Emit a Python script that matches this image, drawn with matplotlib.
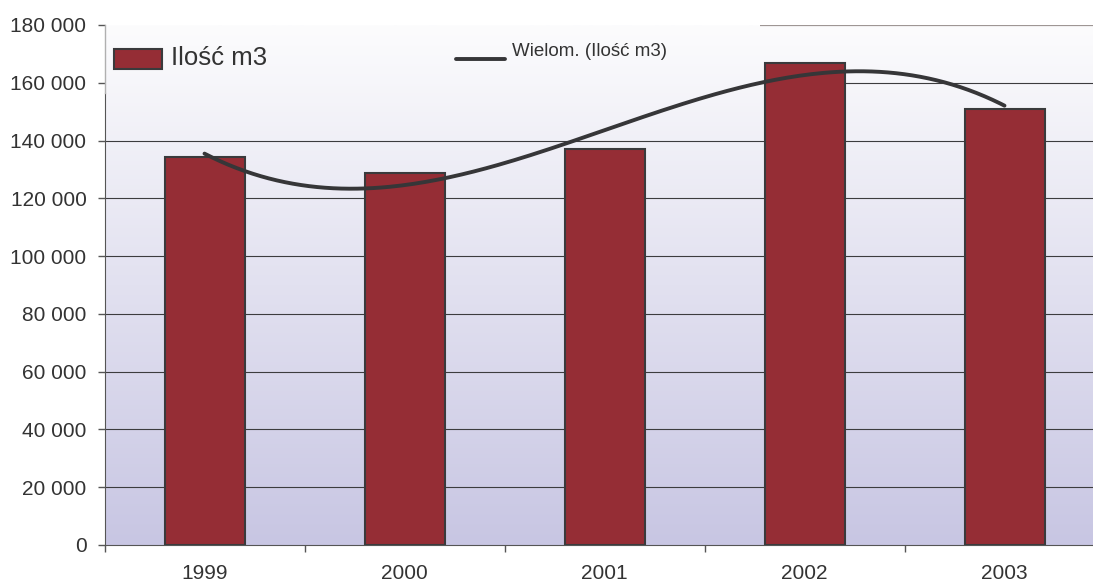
import numpy as np
import matplotlib.pyplot as plt
from matplotlib.colors import LinearSegmentedColormap
from matplotlib.ticker import FuncFormatter
from matplotlib.patches import Rectangle

plt.rcParams['font.family'] = ['Liberation Sans', 'DejaVu Sans']

years = ['1999', '2000', '2001', '2002', '2003']
ilosc_m3 = [134400, 128900, 137100, 167000, 151000]
yticks = list(range(0, 180001, 20000))

bar_color = '#952d35'
edge_color = '#3a3a3c'
text_color = '#333333'

W, H = 1093, 584
fig = plt.figure(figsize=(W / 100, H / 100), dpi=100)
ax = fig.add_axes([104.5 / W, (H - 545) / H, 1000 / W, 520 / H])

x = np.arange(len(years))
ax.set_xlim(-0.5, len(years) - 0.5)
ax.set_ylim(0, 180000)

# gradient background of the plot area
cmap = LinearSegmentedColormap.from_list('bg', ['#c8c6e3', '#fcfcfd'])
grad = np.linspace(0, 1, 256).reshape(-1, 1)
ax.imshow(grad, extent=[0, 1, 0, 1], transform=ax.transAxes, cmap=cmap,
          aspect='auto', origin='lower', zorder=0)

# gridlines (top two are hidden behind the legend area on the left)
legend_right = (760 - 104.5) / 200 - 0.5
for v in yticks[1:]:
    x0 = legend_right if v >= 160000 else -0.5
    col = '#9e9694' if v == 180000 else '#3c3c3e'
    lw = 1.6 if v == 180000 else 0.8
    ax.hlines(v, x0, len(years) - 0.5, color=col, lw=lw, zorder=1)

ax.bar(x, ilosc_m3, width=0.4, color=bar_color, edgecolor=edge_color,
       linewidth=1.5, zorder=2)

# polynomial trend (Excel "Wielom.", degree 3)
coef = np.polyfit(x, ilosc_m3, 3)
xs = np.linspace(0, len(years) - 1, 200)
ax.plot(xs, np.polyval(coef, xs), color='#363638', lw=2.8, zorder=3,
        solid_capstyle='round')

# spines
for s in ['top', 'right']:
    ax.spines[s].set_visible(False)
ax.spines['left'].set_color('#555555')
ax.spines['bottom'].set_color('#555555')
ax.spines['left'].set_bounds(0, 156500)
ax.plot([-0.5, -0.5], [156500, 180000], color='#b0b0b0', lw=1,
        clip_on=False, zorder=3)

# ticks
ax.set_yticks(yticks)
ax.yaxis.set_major_formatter(FuncFormatter(lambda v, p: f'{int(v):,}'.replace(',', ' ')))
ax.tick_params(axis='y', length=5, width=1, color='#555555', pad=8,
               labelsize=15, labelcolor=text_color)
ax.set_xticks(np.arange(-0.5, len(years), 1.0))
ax.set_xticklabels([])
ax.tick_params(axis='x', which='major', length=5, width=1, color='#555555')
ax.set_xticks(x, minor=True)
ax.set_xticklabels(years, minor=True)
ax.tick_params(axis='x', which='minor', length=0, pad=14, labelsize=15,
               labelcolor=text_color)

# legend drawn by hand
ax.add_patch(Rectangle((114, H - 69), 48, 20, transform=None,
                       facecolor=bar_color, edgecolor=edge_color, lw=1.5,
                       zorder=5, clip_on=False))
fig.text(171 / W, 1 - 58 / H, 'Ilość m3', fontsize=18.5, color=text_color,
         va='center', ha='left')
fig.add_artist(plt.Line2D([456 / W, 505 / W], [1 - 59 / H, 1 - 59 / H],
                          color='#363638', lw=2.8, solid_capstyle='round'))
fig.text(512 / W, 1 - 51 / H, 'Wielom. (Ilość m3)', fontsize=13.5,
         color=text_color, va='center', ha='left')

fig.savefig('out.png', dpi=100)
